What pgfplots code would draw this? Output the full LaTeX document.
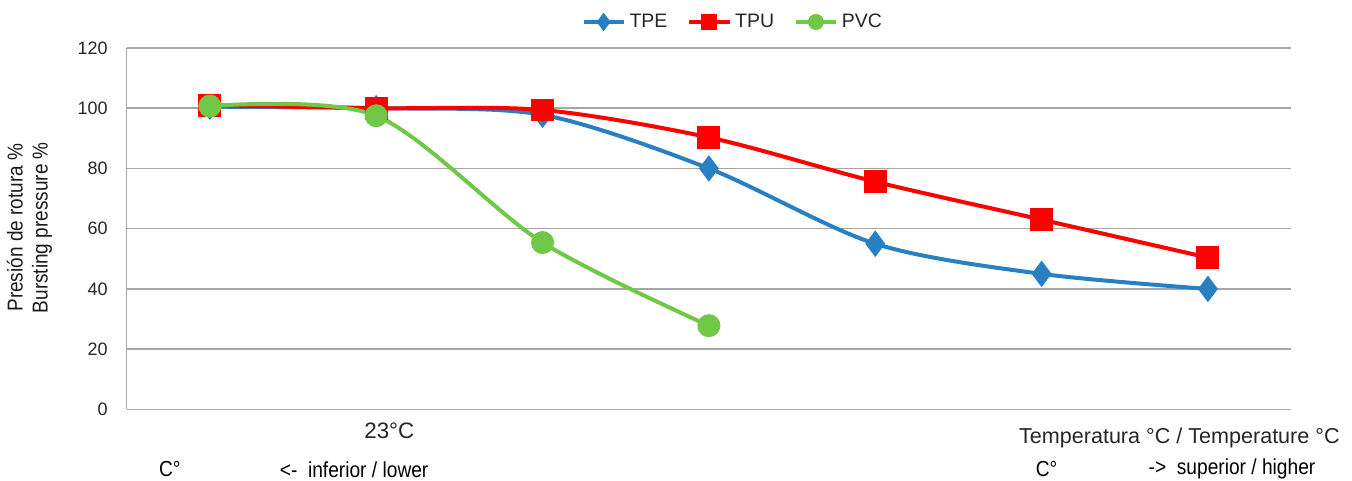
\documentclass[border=0pt]{standalone}
\usepackage{pgfplots}
\pgfplotsset{compat=1.18}
\usepackage{fontspec}
\setmainfont{Liberation Sans}
\newfontfamily\condfont[FakeStretch=0.88]{Liberation Sans}
\definecolor{tpe}{RGB}{40,127,194}
\definecolor{tpu}{RGB}{255,0,0}
\definecolor{pvc}{RGB}{112,200,70}
\definecolor{gridgray}{RGB}{166,166,166}
\begin{document}
\begin{tikzpicture}
\path (0,0) rectangle (676pt,-240.5pt);
\begin{axis}[
  at={(62.5pt,-205pt)}, anchor=south west,
  scale only axis, width=583pt, height=181pt,
  xmin=0.5, xmax=7.5, ymin=0, ymax=120,
  axis x line=bottom, axis y line=left,
  axis line style={draw=gridgray, line width=0.75pt, -},
  xtick=\empty,
  ytick={0,20,...,120},
  ymajorgrids, grid style={gridgray, line width=0.75pt},
  major tick length=0pt,
  tick label style={font=\fontsize{9}{10}\selectfont, text=black!85},
  yticklabel style={xshift=-6pt},
  /pgf/number format/assume math mode=true,
  legend columns=-1,
  legend style={draw=none, fill=none, at={(0.5214,1.0718)}, anchor=center,
    font=\fontsize{9.75}{10}\selectfont, text=black!85,
    /tikz/every even column/.append style={column sep=8pt}},
  legend cell align=left,
  legend image code/.code={
    \draw[mark repeat=2,mark phase=2,#1, mark size=3pt]
      plot coordinates {(0cm,0cm) (0.35cm,0cm) (0.7cm,0cm)};},
  every axis plot/.append style={line width=2pt, smooth, tension=0.5},
]
\addplot[color=tpe, mark=diamond*, mark size=5pt, mark options={solid}] coordinates {
(1,100.5) (2,100) (3,97.8) (4,80) (5,55) (6,45) (7,40)};
\addlegendentry{TPE}
\addplot[color=tpu, mark=square*, mark size=4.75pt] coordinates {
(1,101) (2,100) (3,99.4) (4,90.3) (5,75.6) (6,63) (7,50.4)};
\addlegendentry{TPU}
\addplot[color=pvc, mark=*, mark size=4.75pt] coordinates {
(1,100.7) (2,97.5) (3,55.4) (4,27.8)};
\addlegendentry{PVC}
\end{axis}
\node[font=\fontsize{11.2}{12}\selectfont, text=black!85] at (194pt,-215.5pt) {23°C};
\node[anchor=east, font=\fontsize{10.8}{12}\selectfont, text=black!85, inner sep=0pt] at (670pt,-219.5pt) {Temperatura °C / Temperature °C};
\node[anchor=west, font=\condfont\fontsize{10.9}{12}\selectfont, inner sep=0pt] at (78.5pt,-235pt) {C°};
\node[anchor=west, font=\condfont\fontsize{10.9}{12}\selectfont, inner sep=0pt] at (139pt,-235pt) {<-\ \ inferior / lower};
\node[anchor=west, font=\condfont\fontsize{10.9}{12}\selectfont, inner sep=0pt] at (517.5pt,-235pt) {C°};
\node[anchor=west, font=\condfont\fontsize{10.9}{12}\selectfont, inner sep=0pt] at (574pt,-235pt) {->\ \ superior / higher};
\node[rotate=90, align=center, font=\condfont\fontsize{10.8}{12.5}\selectfont, text=black!90] at (13.75pt,-114pt) {Presión de rotura \%\\Bursting pressure \%};
\end{tikzpicture}
\end{document}
